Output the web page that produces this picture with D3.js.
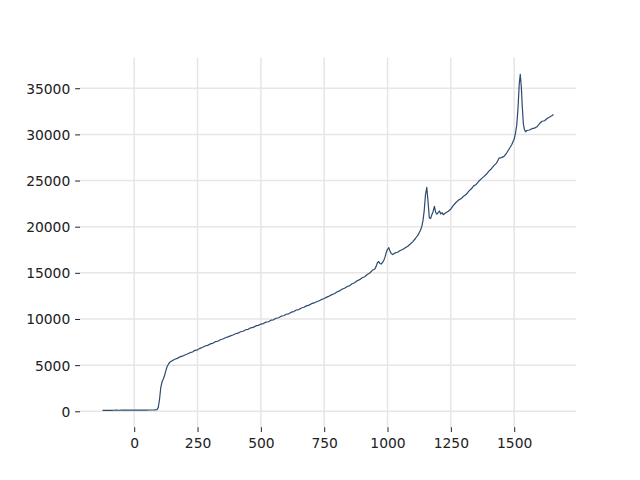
<!DOCTYPE html>
<html><head><meta charset="utf-8">
<script src="https://cdn.jsdelivr.net/npm/d3@7"></script>
<style>body{margin:0;background:#fff}svg{display:block}</style>
</head><body>
<svg id="c" width="640" height="480"></svg>
<script>
const xValues = [-125,-120,-110,-100,-90,-80,-70,-60,-50,-40,-30,-20,-10,0,10,20,30,40,50,60,70,80,90,
95,100,105,110,115,120,125,130,135,140,150,160,170,180,190,200,210,220,230,240,250,260,270,280,290,300,
310,320,330,340,350,360,370,380,390,400,410,420,430,440,450,460,470,480,490,500,510,520,530,540,550,560,
570,580,590,600,610,620,630,640,650,660,670,680,690,700,710,720,730,740,750,760,770,780,790,800,810,820,
830,840,850,860,870,880,890,900,910,920,930,940,950,955,960,965,970,975,980,985,990,995,1000,1005,1010,
1015,1020,1030,1040,1050,1060,1070,1080,1090,1100,1110,1120,1130,1135,1140,1145,1150,1155,1160,1165,1170,
1175,1180,1185,1190,1195,1200,1205,1210,1215,1220,1230,1240,1250,1260,1270,1280,1290,1300,1310,1320,1330,
1340,1350,1360,1370,1380,1390,1400,1410,1420,1430,1440,1450,1460,1470,1480,1490,1500,1505,1510,1515,1520,
1524,1528,1532,1536,1540,1545,1550,1560,1570,1580,1590,1600,1610,1620,1630,1640,1650,1655];
const yValues = [95,100,108,112,106,114,116,112,119,121,116,123,126,122,129,126,131,133,130,136,139,142,175,
420,1300,2600,3200,3500,3900,4400,4850,5100,5300,5480,5640,5730,5890,5970,6100,6200,6350,6420,6600,6660,6820,6930,7070,7140,7300,
7360,7540,7590,7750,7830,7960,8060,8170,8270,8400,8460,8620,8670,8830,8880,9040,9090,9250,9310,9450,9500,9660,9700,9870,9910,10080,
10130,10300,10350,10510,10560,10740,10800,10970,11020,11190,11270,11420,11500,11660,11740,11870,11980,12120,12220,12370,12480,12640,12740,12920,13040,13220,
13330,13500,13600,13820,13920,14140,14260,14470,14580,14820,14980,15270,15420,15700,16100,16220,16020,15950,16120,16320,16700,17200,17550,17720,17330,
17080,16980,17160,17230,17420,17530,17720,17880,18120,18380,18720,19080,19620,19980,20650,21800,23500,24250,22700,20950,20880,
21300,21650,22200,21550,21350,21520,21700,21380,21520,21300,21520,21680,21920,22300,22620,22880,23020,23300,23480,23820,24080,
24420,24580,24920,25180,25420,25680,26020,26280,26620,26880,27420,27480,27620,27980,28420,28880,29500,30100,31000,32800,35500,
36500,35200,33000,31200,30550,30280,30420,30480,30620,30680,30820,31180,31420,31480,31720,31880,32050,32150];
const xTicks = [0,250,500,750,1000,1250,1500];
const yTicks = [0,5000,10000,15000,20000,25000,30000,35000];

const svg = d3.select('#c');
const L = 80, R = 576, T = 57.6, B = 427.2;
const xmin = d3.min(xValues), xmax = d3.max(xValues);
const ymin = d3.min(yValues), ymax = d3.max(yValues);
const xm = (xmax - xmin) * 0.05, ym = (ymax - ymin) * 0.05;
const x = d3.scaleLinear().domain([xmin - xm, xmax + xm]).range([L, R]);
const y = d3.scaleLinear().domain([ymin - ym, ymax + ym]).range([B, T]);

const grid = svg.append('g');
grid.selectAll('line.v').data(xTicks).enter().append('line')
  .attr('x1', d => x(d)).attr('x2', d => x(d)).attr('y1', T).attr('y2', B)
  .attr('stroke', '#e6e6e6').attr('stroke-width', 1.5);
grid.selectAll('line.h').data(yTicks).enter().append('line')
  .attr('y1', d => y(d)).attr('y2', d => y(d)).attr('x1', L).attr('x2', R)
  .attr('stroke', '#e6e6e6').attr('stroke-width', 1.5);

const font = 'DejaVu Sans, sans-serif';
const xAxis = d3.axisBottom(x).tickValues(xTicks).tickSize(4.86).tickPadding(6).tickFormat(d3.format('d'));
const yAxis = d3.axisLeft(y).tickValues(yTicks).tickSize(4.86).tickPadding(4.86).tickFormat(d3.format('d'));
const gx = svg.append('g').attr('transform', `translate(0,${B})`).call(xAxis);
const gy = svg.append('g').attr('transform', `translate(${L},0)`).call(yAxis);
[gx, gy].forEach(g => {
  g.select('.domain').remove();
  g.selectAll('.tick line').attr('stroke', '#222').attr('stroke-width', 1);
  g.selectAll('.tick text').attr('fill', '#222').attr('font-family', font).attr('font-size', '13.89px');
});
gx.selectAll('.tick text').attr('dy', null).attr('y', 21.1).attr('dominant-baseline', 'alphabetic');
gy.selectAll('.tick text').attr('dy', null).attr('y', 5).attr('dominant-baseline', 'alphabetic');

const pts = xValues.map((v, i) => [v, yValues[i]]);
svg.append('path').datum(pts)
  .attr('fill', 'none').attr('stroke', '#2d4a6c').attr('stroke-width', 1.2)
  .attr('stroke-linejoin', 'round')
  .attr('d', d3.line().x(d => x(d[0])).y(d => y(d[1])));
</script>
</body></html>
